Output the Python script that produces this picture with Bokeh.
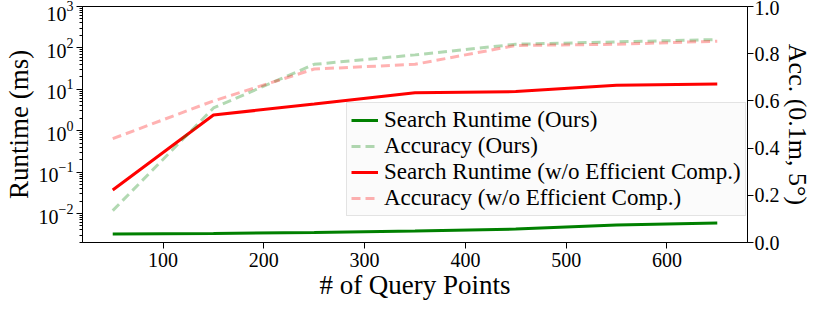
from bokeh.plotting import figure
from bokeh.models import (Range1d, LinearAxis, LinearScale, FixedTicker, Legend, LegendItem,
                          PrintfTickFormatter, LogTicker)
from bokeh.embed import file_html
from bokeh.resources import INLINE

query_points = [50, 150, 250, 350, 450, 550, 650]
runtime_ours = [0.0032, 0.0033, 0.0035, 0.0038, 0.0042, 0.0053, 0.0059]
runtime_wo = [0.037, 2.4, 4.4, 8.3, 8.8, 12.5, 13.5]
acc_ours = [0.135, 0.57, 0.755, 0.795, 0.84, 0.85, 0.86]
acc_wo = [0.44, 0.60, 0.735, 0.755, 0.835, 0.84, 0.853]
x_ticks = [100, 200, 300, 400, 500, 600]
acc_ticks = [0.0, 0.2, 0.4, 0.6, 0.8, 1.0]

FONT = "Liberation Serif"

p = figure(width=814, height=302, y_axis_type="log",
           x_range=Range1d(20, 680), y_range=Range1d(10 ** -2.70, 1e3),
           output_backend="svg", toolbar_location=None,
           min_border_left=72, min_border_right=0, min_border_top=6, min_border_bottom=0)
p.extra_y_ranges = {"acc": Range1d(0, 1)}
p.extra_y_scales = {"acc": LinearScale()}
p.xgrid.visible = False
p.ygrid.visible = False
p.outline_line_color = "black"
p.outline_line_alpha = 1.0
p.background_fill_color = "white"
p.border_fill_color = "white"

r1 = p.line(query_points, runtime_ours, line_color="green", line_width=3)
r3 = p.line(query_points, runtime_wo, line_color="red", line_width=3)
r2 = p.line(query_points, acc_ours, line_color="green", line_alpha=0.3, line_width=3,
            line_dash="9 5", y_range_name="acc")
r4 = p.line(query_points, acc_wo, line_color="red", line_alpha=0.3, line_width=3,
            line_dash="9 5", y_range_name="acc")

right = LinearAxis(y_range_name="acc")
p.add_layout(right, "right")

p.xaxis.ticker = FixedTicker(ticks=x_ticks)
p.yaxis[0].ticker = LogTicker(num_minor_ticks=10)
right.ticker = FixedTicker(ticks=acc_ticks)
right.formatter = PrintfTickFormatter(format="%.1f")

p.xaxis.axis_label = "# of Query Points"
p.yaxis[0].axis_label = "Runtime (ms)"
right.axis_label = "Acc. (0.1m, 5°)"

for ax in [p.xaxis[0], p.yaxis[0], right]:
    ax.axis_line_color = "black"
    ax.major_tick_line_color = "black"
    ax.minor_tick_line_color = "black"
    ax.major_tick_out = 6
    ax.major_tick_in = 0
    ax.minor_tick_out = 3
    ax.minor_tick_in = 0
    ax.major_label_text_font = FONT
    ax.major_label_text_font_size = "20px"
    ax.major_label_text_color = "black"
    ax.axis_label_text_font = FONT
    ax.axis_label_text_font_size = "27px"
    ax.axis_label_text_font_style = "normal"
    ax.axis_label_text_color = "black"
    ax.major_label_standoff = 3
    ax.axis_label_standoff = 2
p.xaxis[0].minor_tick_line_color = None
p.xaxis[0].major_label_standoff = 4
p.xaxis[0].axis_label_standoff = 0
right.minor_tick_line_color = None
right.major_label_standoff = 1
right.axis_label_standoff = 0
right.axis_label_text_font_size = "26px"

legend = Legend(items=[
    LegendItem(label="Search Runtime (Ours)", renderers=[r1]),
    LegendItem(label="Accuracy (Ours)", renderers=[r2]),
    LegendItem(label="Search Runtime (w/o Efficient Comp.)", renderers=[r3]),
    LegendItem(label="Accuracy (w/o Efficient Comp.)", renderers=[r4]),
], location=(264, 26))
legend.label_text_font = FONT
legend.label_text_font_size = "23px"
legend.label_text_line_height = 1.0
legend.label_text_color = "black"
legend.label_height = 24
legend.glyph_height = 24
legend.glyph_width = 27
legend.label_standoff = 6
legend.spacing = 0
legend.padding = 4
legend.margin = 0
legend.background_fill_color = "#fafafa"
legend.background_fill_alpha = 0.85
legend.border_line_color = "#cccccc"
legend.border_line_width = 1
p.add_layout(legend)

open("out.html", "w").write(file_html(p, INLINE))
